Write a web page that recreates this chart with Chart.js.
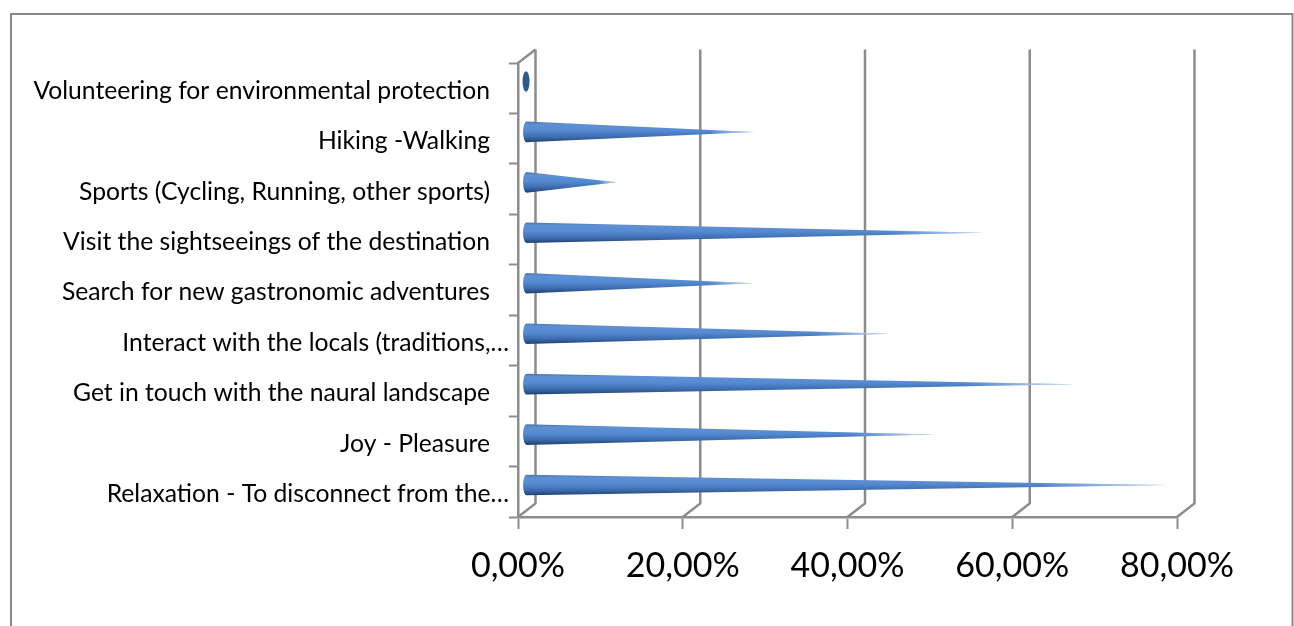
<!DOCTYPE html>
<html>
<head>
<meta charset="utf-8">
<style>
  html, body { margin: 0; padding: 0; background: #fff; overflow: hidden; }
  #wrap { width: 1294px; height: 626px; }
</style>
<script src="https://cdn.jsdelivr.net/npm/chart.js@4/dist/chart.umd.js"></script>
</head>
<body>
<div id="wrap"><canvas id="chart" width="1294" height="626"></canvas></div>
<script>
const categories = [
  'Volunteering for environmental protection',
  'Hiking -Walking',
  'Sports (Cycling, Running, other sports)',
  'Visit the sightseeings of the destination',
  'Search for new gastronomic adventures',
  'Interact with the locals (traditions,…',
  'Get in touch with the naural landscape',
  'Joy - Pleasure',
  'Relaxation - To disconnect from the…'
]
const shares = [0, 27.7, 11, 55.5, 27.6, 44.2, 66.6, 49.6, 77.8]

const axisColor = '#8c8c8c'
// how far the back wall sits from the front axes
const depthX = 17.5
const depthY = 13.5
const coneRy = 10.3
const coneRx = 3.5

class ConeElement extends Chart.BarElement {
  static id = 'cone'
  draw(ctx) {
    const baseX = this.base + depthX / 2 - 0.7
    const tipX = this.x + depthX / 2 - 0.7
    const cy = this.y - depthY / 2

    ctx.save()
    if (tipX <= baseX) {
      // nothing but the round end is left at zero
      ctx.beginPath()
      ctx.ellipse(baseX, cy, coneRx, coneRy, 0, 0, Math.PI * 2)
      ctx.fillStyle = '#2c5a8f'
      ctx.fill()
    } else {
      ctx.beginPath()
      ctx.ellipse(baseX, cy, coneRx, coneRy, 0, Math.PI / 2, Math.PI * 1.5)
      ctx.lineTo(tipX, cy)
      ctx.closePath()
      const body = ctx.createLinearGradient(0, cy - coneRy, 0, cy + coneRy)
      body.addColorStop(0, '#4a76b0')
      body.addColorStop(0.15, '#5f90d4')
      body.addColorStop(0.45, '#558ad2')
      body.addColorStop(0.75, '#3d6cae')
      body.addColorStop(1, '#1f3f6e')
      ctx.fillStyle = body
      ctx.fill()

      // thin end of the cone melts into the page
      const fade = ctx.createLinearGradient(baseX, 0, tipX, 0)
      fade.addColorStop(0, 'rgba(255,255,255,0)')
      fade.addColorStop(0.8, 'rgba(255,255,255,0)')
      fade.addColorStop(1, 'rgba(255,255,255,0.75)')
      ctx.fillStyle = fade
      ctx.fill()
    }
    ctx.restore()
  }
}
ConeElement.defaults = Chart.BarElement.defaults
ConeElement.defaultRoutes = Chart.BarElement.defaultRoutes

class ConeController extends Chart.BarController {
  static id = 'coneBar'
  static defaults = { ...Chart.BarController.defaults, dataElementType: 'cone' }
  static overrides = Chart.BarController.overrides
}
Chart.register(ConeElement, ConeController)

// outer box and the back wall of the fake 3D plot
const wallPlugin = {
  id: 'wall',
  beforeDraw(chart) {
    const ctx = chart.ctx
    ctx.save()
    ctx.strokeStyle = '#8a8a8a'
    ctx.lineWidth = 2
    ctx.beginPath()
    ctx.moveTo(11, 640)
    ctx.lineTo(11, 14)
    ctx.lineTo(1292.5, 14)
    ctx.lineTo(1292.5, 640)
    ctx.stroke()
    ctx.restore()
  },
  beforeDatasetsDraw(chart) {
    const ctx = chart.ctx
    const { top, bottom, left } = chart.chartArea
    const xScale = chart.scales.x
    ctx.save()
    ctx.strokeStyle = axisColor
    ctx.lineWidth = 2.5
    xScale.ticks.forEach(t => {
      const px = xScale.getPixelForValue(t.value)
      ctx.beginPath()
      ctx.moveTo(px, bottom)
      ctx.lineTo(px + depthX, bottom - depthY)
      ctx.lineTo(px + depthX, top - depthY)
      ctx.stroke()
    })
    ctx.beginPath()
    ctx.moveTo(left, top)
    ctx.lineTo(left + depthX, top - depthY)
    ctx.stroke()
    ctx.restore()
  }
}

const labelFont = 'Lato, sans-serif'

new Chart(document.getElementById('chart'), {
  type: 'coneBar',
  data: {
    labels: categories,
    datasets: [{ label: 'Share', data: shares }]
  },
  options: {
    indexAxis: 'y',
    responsive: false,
    animation: false,
    layout: { padding: { top: 63, left: 20, right: 117, bottom: 0 } },
    plugins: { legend: { display: false }, tooltip: { enabled: false } },
    scales: {
      x: {
        min: 0,
        max: 80,
        position: 'bottom',
        grid: { drawOnChartArea: false, tickLength: 12, tickColor: axisColor, tickWidth: 2 },
        border: { color: axisColor, width: 2.5 },
        ticks: {
          stepSize: 20,
          color: '#000',
          padding: 17,
          maxRotation: 0,
          font: { family: labelFont, size: 34 },
          callback: v => v.toFixed(2).replace('.', ',') + '%'
        },
        afterFit: s => { s.height = 109 }
      },
      y: {
        grid: { drawOnChartArea: false, tickLength: 9, tickColor: axisColor, tickWidth: 2 },
        border: { color: axisColor, width: 2.5 },
        ticks: {
          color: '#000',
          padding: 0,
          autoSkip: false,
          labelOffset: 2.5,
          font: { family: labelFont, size: 24.7 },
          callback(v) {
            const text = this.getLabelForValue(v)
            return text.endsWith('…') ? text : text + '   '
          }
        },
        afterFit: s => { s.width = 498 }
      }
    }
  },
  plugins: [wallPlugin]
})
</script>
</body>
</html>
